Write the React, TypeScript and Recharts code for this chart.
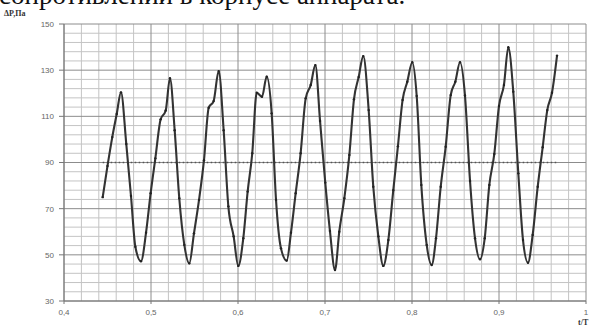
import React from 'react';
import {
  LineChart, Line, XAxis, YAxis, ReferenceLine,
} from 'recharts';

// t/T values and pressure drop
const tValues = [
  0.4445, 0.4500, 0.4555, 0.4606, 0.4655, 0.4716, 0.4770, 0.4820, 0.4885, 0.4943,
  0.4996, 0.5050, 0.5111, 0.5169, 0.5218, 0.5272, 0.5325, 0.5383, 0.5440, 0.5494,
  0.5552, 0.5609, 0.5663, 0.5720, 0.5778, 0.5835, 0.5889, 0.5950, 0.6003, 0.6061,
  0.6111, 0.6164, 0.6215, 0.6276, 0.6330, 0.6387, 0.6437, 0.6494, 0.6560, 0.6609,
  0.6663, 0.6720, 0.6778, 0.6836, 0.6889, 0.6943, 0.7003, 0.7057, 0.7115, 0.7164,
  0.7222, 0.7280, 0.7333, 0.7387, 0.7440, 0.7502, 0.7555, 0.7613, 0.7670, 0.7728,
  0.7785, 0.7838, 0.7892, 0.7946, 0.8003, 0.8054, 0.8107, 0.8169, 0.8226, 0.8276,
  0.8330, 0.8387, 0.8445, 0.8498, 0.8552, 0.8609, 0.8667, 0.8724, 0.8782, 0.8836,
  0.8889, 0.8946, 0.9000, 0.9057, 0.9107, 0.9164, 0.9222, 0.9276, 0.9333, 0.9387,
  0.9445, 0.9502, 0.9555, 0.9609, 0.9667,
];
const dpValues = [
  75, 88.5, 101, 111, 120.4, 98, 75.5, 53.5, 47.2, 59.6,
  76.7, 91.8, 108.7, 112.5, 126.5, 104, 74.5, 54.3, 46.3, 59.3,
  73.8, 91, 113.7, 116.6, 129.6, 104, 71, 58, 45.2, 57.2,
  77.4, 94, 120.2, 118.5, 127.2, 111.3, 73.8, 52.8, 47.5, 59.6,
  76.7, 94, 117.8, 123.6, 132.2, 108, 81.3, 60.3, 43.4, 60,
  74.5, 93.3, 117.4, 127, 136.1, 112.7, 79.5, 58, 45.2, 56.4,
  78, 97, 117.1, 125, 133.4, 118.8, 80.3, 54.3, 45.6, 57.2,
  79.5, 96.8, 119.2, 125, 133.4, 119, 82, 57.2, 48.1, 57.2,
  80.3, 93.7, 114.5, 123.6, 139.9, 120.7, 85.3, 56.4, 46.6, 58.6,
  79.5, 96.6, 112.7, 120.2, 136.3,
];
const baseLevel = 90;

const xTicks = [0.4, 0.5, 0.6, 0.7, 0.8, 0.9, 1];
const yTicks = [30, 50, 70, 90, 110, 130, 150];
const xMinor = [0.42, 0.44, 0.46, 0.48, 0.52, 0.54, 0.56, 0.58, 0.62, 0.64, 0.66, 0.68,
  0.72, 0.74, 0.76, 0.78, 0.82, 0.84, 0.86, 0.88, 0.92, 0.94, 0.96, 0.98];
const yMinor = [34, 38, 42, 46, 54, 58, 62, 66, 74, 78, 82, 86, 94, 98, 102, 106,
  114, 118, 122, 126, 134, 138, 142, 146];

const data = tValues.map((t, i) => ({ t, dp: dpValues[i], base: baseLevel }));

const tickStyle = { fill: '#666', fontSize: 8, fontFamily: 'Liberation Sans, Arial, sans-serif' };
const fmt = (v: number) => String(v).replace('.', ',');

const MINOR = '#c4c4c4';
const MAJOR = '#8c8c8c';

export default function App() {
  return (
    <div style={{ position: 'absolute', left: 0, top: 0, width: 592, height: 327, background: '#fff', overflow: 'hidden' }}>
      <div style={{
        position: 'absolute', left: -1, top: -21, fontFamily: 'Liberation Serif, Times New Roman, serif',
        fontSize: 27, lineHeight: '32px', color: '#111', whiteSpace: 'nowrap',
      }}>
        сопротивлений в корпусе аппарата.
      </div>
      <div style={{
        position: 'absolute', left: 4, top: 9, fontFamily: 'Liberation Serif, serif',
        fontSize: 8, fontWeight: 'bold', color: '#333',
      }}>
        ΔP,Па
      </div>
      <div style={{
        position: 'absolute', left: 578, top: 318, fontFamily: 'Liberation Serif, serif',
        fontSize: 8, fontWeight: 'bold', color: '#333',
      }}>
        t/T
      </div>
      <LineChart width={592} height={327} data={data} margin={{ top: 24, right: 6, bottom: 0, left: 14 }}
        style={{ position: 'absolute', left: 0, top: 0 }}>
        {xMinor.map(v => <ReferenceLine key={'xm' + v} x={v} stroke={MINOR} strokeWidth={1} zIndex={-60} />)}
        {yMinor.map(v => <ReferenceLine key={'ym' + v} y={v} stroke={MINOR} strokeWidth={1} zIndex={-60} />)}
        {xTicks.map(v => <ReferenceLine key={'xM' + v} x={v} stroke={MAJOR} strokeWidth={1} zIndex={-50} />)}
        {yTicks.map(v => <ReferenceLine key={'yM' + v} y={v} stroke={MAJOR} strokeWidth={1} zIndex={-50} />)}
        <XAxis dataKey="t" type="number" domain={[0.4, 1]} ticks={xTicks} tickFormatter={fmt}
          tick={tickStyle} tickSize={3} tickMargin={5} height={26} stroke="#777" interval={0} />
        <YAxis type="number" domain={[30, 150]} ticks={yTicks} tick={tickStyle} tickSize={5}
          tickMargin={5} width={50} stroke="#777" interval={0} />
        <Line dataKey="base" type="linear" stroke="#555" strokeWidth={1.6} strokeDasharray="1.5 2.5"
          dot={false} isAnimationActive={false} />
        <Line dataKey="dp" type="monotone" stroke="#333" strokeWidth={2.1}
          dot={{ r: 1.2, fill: '#222', stroke: 'none' }} isAnimationActive={false} />
      </LineChart>
    </div>
  );
}
